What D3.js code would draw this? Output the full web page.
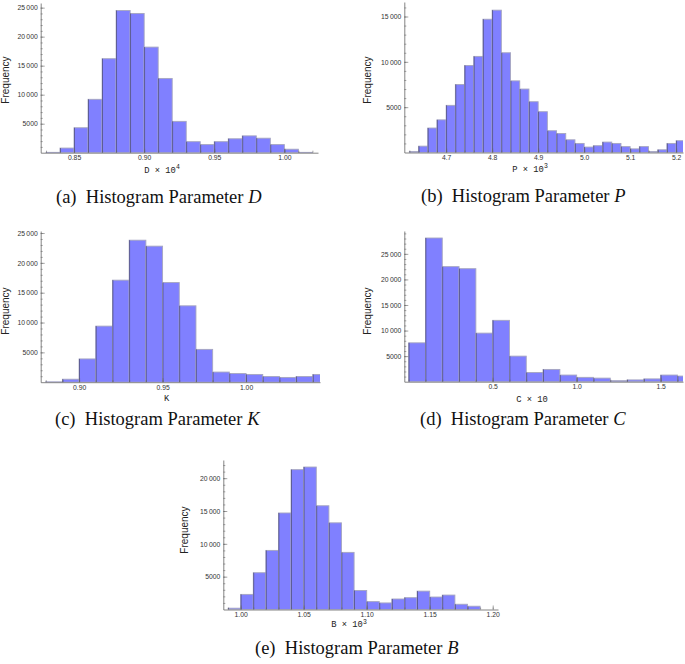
<!DOCTYPE html>
<html><head><meta charset="utf-8">
<script src="https://cdn.jsdelivr.net/npm/d3@7"></script>
<style>body{margin:0;background:#fff}svg{display:block}</style>
</head><body>
<svg id="chart" width="685" height="664"></svg>
<script>
// ---------- DATA ----------
const dBinStarts = [0.83,0.84,0.85,0.86,0.87,0.88,0.89,0.90,0.91,0.92,0.93,0.94,0.95,0.96,0.97,0.98,0.99,1.00,1.01];
const dCounts    = [60,800,4300,9200,16200,24500,24000,18200,12800,5400,1900,1400,1900,2400,2900,2500,1400,600,60];
const dTicks     = [0.85,0.90,0.95,1.00];

const pBinStarts = [4.62,4.64,4.66,4.68,4.70,4.72,4.74,4.76,4.78,4.80,4.82,4.84,4.86,4.88,4.90,4.92,4.94,4.96,4.98,5.00,5.02,5.04,5.06,5.08,5.10,5.12,5.14,5.16,5.18,5.20];
const pCounts    = [100,700,2700,3600,5200,7500,9600,10600,14700,15700,11000,7900,7000,5600,4500,2400,2100,1400,1000,600,750,1150,1000,650,400,650,100,300,1000,1300];
const pTicks     = [4.7,4.8,4.9,5.0,5.1,5.2];

const kBinStarts = [0.88,0.89,0.90,0.91,0.92,0.93,0.94,0.95,0.96,0.97,0.98,0.99,1.00,1.01,1.02,1.03,1.04];
const kCounts    = [60,500,3900,9400,17100,23800,22800,16700,12800,5500,1700,1450,1300,950,800,950,1300];
const kTicks     = [0.90,0.95,1.00];

const cBinStarts = [0.0,0.1,0.2,0.3,0.4,0.5,0.6,0.7,0.8,0.9,1.0,1.1,1.2,1.3,1.4,1.5,1.6];
const cCounts    = [7600,28100,22500,22100,9500,12000,5000,1800,2400,1300,850,700,200,350,550,1300,1100];
const cTicks     = [0.5,1.0,1.5];

const bBinStarts = [0.99,1.00,1.01,1.02,1.03,1.04,1.05,1.06,1.07,1.08,1.09,1.10,1.11,1.12,1.13,1.14,1.15,1.16,1.17,1.18];
const bCounts    = [200,2300,5600,9000,14700,21300,21700,15800,13200,8700,2900,1200,1000,1600,1800,2800,1900,2200,800,500];
const bTicks     = [1.00,1.05,1.10,1.15,1.20];

const yMajorStep = 5000, yMinorStep = 1000;

// ---------- LAYOUT ----------
const panels = [
  {id:"a", starts:dBinStarts, counts:dCounts, ticks:dTicks, w:0.01, minor:0.01, fmt:".2f",
   dom:[0.8262,1.024], xr:[40.7,318], yb:152.7, yt:3, yMax:25800,
   xlab:["D","4"], xlabPos:[162,172.5], freqPos:[8.6,80],
   cap:"(a)", capVar:"D", capPos:[56,202.5]},
  {id:"b", starts:pBinStarts, counts:pCounts, ticks:pTicks, w:0.02, minor:0.02, fmt:".1f",
   dom:[4.609,5.2149], xr:[404.3,683], yb:152.5, yt:2, yMax:16600,
   xlab:["P","3"], xlabPos:[530,171.5], freqPos:[371,80],
   cap:"(b)", capVar:"P", capPos:[421,202]},
  {id:"c", starts:kBinStarts, counts:kCounts, ticks:kTicks, w:0.01, minor:0.01, fmt:".2f",
   dom:[0.877,1.0443], xr:[40.7,320], yb:382.2, yt:231, yMax:25340,
   xlab:["K",null], xlabPos:[166.7,401], freqPos:[8.6,311],
   cap:"(c)", capVar:"K", capPos:[55,424.5]},
  {id:"d", starts:cBinStarts, counts:cCounts, ticks:cTicks, w:0.1, minor:0.1, fmt:".1f",
   dom:[-0.026,1.633], xr:[404.3,683], yb:381.7, yt:231, yMax:29470,
   xlab:["C","10x"], xlabPos:[532,401.5], freqPos:[371,311],
   cap:"(d)", capVar:"C", capPos:[420,424.5]},
  {id:"e", starts:bBinStarts, counts:bCounts, ticks:bTicks, w:0.01, minor:0.01, fmt:".2f",
   dom:[0.9862,1.2042], xr:[223.3,498], yb:609.5, yt:460, yMax:22770,
   xlab:["B","3"], xlabPos:[349,627], freqPos:[188,530],
   cap:"(e)", capVar:"B", capPos:[255,653.5]}
];

const svg = d3.select("#chart");
const tickFont = "'Liberation Sans', Arial, sans-serif";
const yFmt = d => d >= 10000 ? d3.format(",")(d).replace(",", "\u2009") : String(d);

panels.forEach(p => {
  const x = d3.scaleLinear().domain(p.dom).range(p.xr);
  const y = d3.scaleLinear().domain([0, p.yMax]).range([p.yb, p.yt]);
  const g = svg.append("g");

  svg.append("clipPath").attr("id", "clip-" + p.id)
    .append("rect").attr("x", p.xr[0]).attr("y", p.yt - 2)
    .attr("width", p.xr[1] - p.xr[0]).attr("height", p.yb - p.yt + 2);

  const data = p.starts.map((s, i) => ({x0: s, x1: s + p.w, v: p.counts[i]}));
  const bars = g.append("g").attr("clip-path", `url(#clip-${p.id})`);
  bars.selectAll("rect").data(data).join("rect")
    .attr("x", d => x(d.x0)).attr("y", d => y(d.v))
    .attr("width", d => x(d.x1) - x(d.x0))
    .attr("height", d => Math.max(0.6, y(0) - y(d.v)))
    .attr("fill", "#8080ff")
    .attr("stroke", "#a6a6c0").attr("stroke-width", 0.9);
  bars.selectAll("line.edge").data(data).join("line").attr("class", "edge")
    .attr("x1", d => x(d.x0) + 0.4).attr("x2", d => x(d.x0) + 0.4)
    .attr("y1", d => y(d.v)).attr("y2", d => y(0))
    .attr("stroke", "#4a4a80").attr("stroke-width", 0.9).attr("stroke-opacity", 0.85);

  // minor ticks
  const minorX = d3.range(Math.ceil(p.dom[0] / p.minor), Math.floor(p.dom[1] / p.minor) + 1)
    .map(k => +(k * p.minor).toFixed(4));
  const minorY = d3.range(yMinorStep, p.yMax + 1, yMinorStep);

  const xMinor = g.append("g").attr("transform", `translate(0,${p.yb})`)
    .call(d3.axisBottom(x).tickValues(minorX).tickFormat("").tickSizeInner(-2).tickSizeOuter(0));
  xMinor.select(".domain").remove();
  const yMinor = g.append("g").attr("transform", `translate(${p.xr[0]},0)`)
    .call(d3.axisLeft(y).tickValues(minorY).tickFormat("").tickSizeInner(-2).tickSizeOuter(0));
  yMinor.select(".domain").remove();

  const xAxis = g.append("g").attr("transform", `translate(0,${p.yb})`)
    .call(d3.axisBottom(x).tickValues(p.ticks).tickFormat(d3.format(p.fmt))
      .tickSizeInner(-4).tickSizeOuter(0).tickPadding(2.6));
  const majorY = d3.range(yMajorStep, p.yMax + 1, yMajorStep);
  const yAxis = g.append("g").attr("transform", `translate(${p.xr[0]},0)`)
    .call(d3.axisLeft(y).tickValues(majorY).tickFormat(yFmt)
      .tickSizeInner(-4).tickSizeOuter(0).tickPadding(3));

  [xAxis, yAxis, xMinor, yMinor].forEach(a => {
    a.selectAll("line").attr("stroke", "#666").attr("stroke-width", 0.6);
    a.selectAll(".domain").attr("stroke", "#666").attr("stroke-width", 0.8);
    a.selectAll("text").attr("font-family", tickFont).attr("font-size", 6.8).attr("fill", "#333");
  });

  // Frequency label
  g.append("text").attr("transform", `translate(${p.freqPos[0]},${p.freqPos[1]}) rotate(-90)`)
    .attr("text-anchor", "middle").attr("font-family", tickFont).attr("font-size", 10)
    .attr("fill", "#222").text("Frequency");

  // x label
  const xl = g.append("text").attr("x", p.xlabPos[0]).attr("y", p.xlabPos[1])
    .attr("text-anchor", "middle").attr("font-family", "'Liberation Mono', 'DejaVu Sans Mono', monospace")
    .attr("font-size", 8.8).attr("fill", "#222");
  if (p.xlab[1] === null) {
    xl.text(p.xlab[0]);
  } else if (p.xlab[1] === "10x") {
    xl.text(p.xlab[0] + " \u00d7 10");
  } else {
    xl.append("tspan").text(p.xlab[0] + " \u00d7 10");
    xl.append("tspan").attr("dy", -3.5).attr("font-size", 6.5).text(p.xlab[1]);
  }

  // caption
  const cap = svg.append("text").attr("x", p.capPos[0]).attr("y", p.capPos[1])
    .attr("font-family", "'Liberation Serif', 'DejaVu Serif', serif").attr("font-size", 18.5)
    .attr("fill", "#111").attr("xml:space", "preserve");
  cap.append("tspan").text(p.cap + "\u2002Histogram Parameter ");
  cap.append("tspan").attr("font-style", "italic").text(p.capVar);
});
</script>
</body></html>
